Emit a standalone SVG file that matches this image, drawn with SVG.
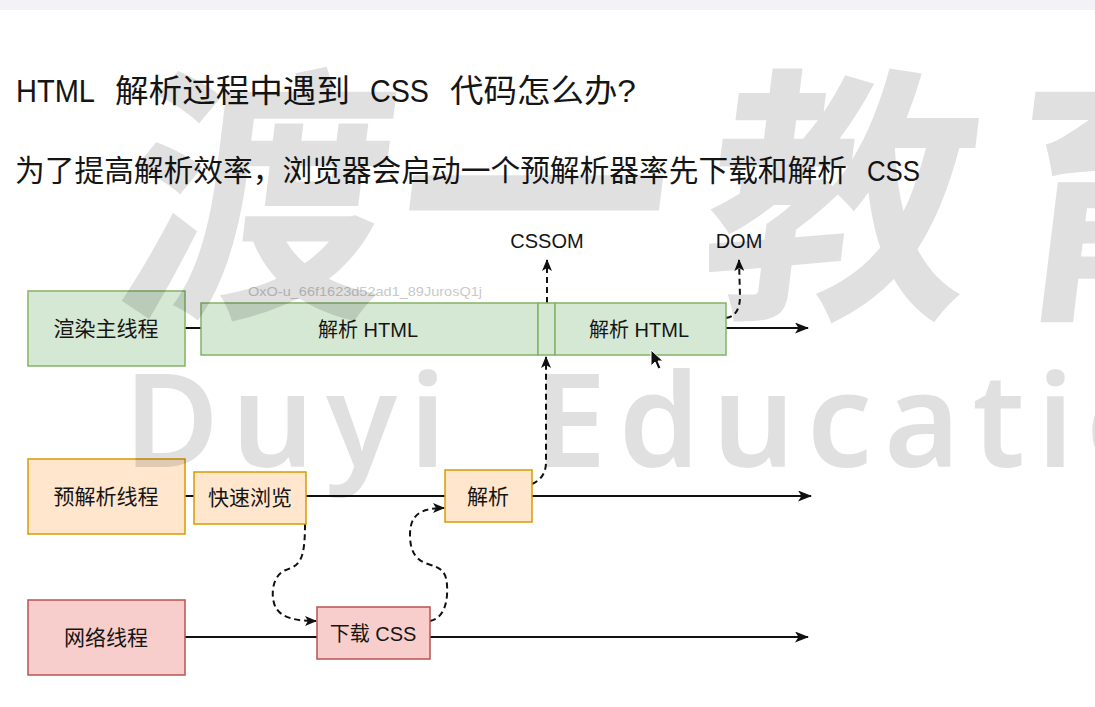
<svg xmlns="http://www.w3.org/2000/svg" width="1095" height="707" viewBox="0 0 1095 707">
<style>
.t{font-family:"Liberation Sans","Noto Sans CJK SC",sans-serif;fill:#151515}
.lbl{font-family:"Liberation Sans","Noto Sans CJK SC",sans-serif;font-size:20px;fill:#151515;text-anchor:middle}
.g{fill:#d5e8d4;stroke:#82b366;stroke-width:1.5}
.o{fill:#ffe6cc;stroke:#d79b00;stroke-width:1.5}
.r{fill:#f8cecc;stroke:#b85450;stroke-width:1.5}
.ln{fill:none;stroke:#111;stroke-width:2}
.ds{fill:none;stroke:#111;stroke-width:2;stroke-dasharray:6 4}
.wm{font-family:"Noto Sans CJK SC",sans-serif;font-weight:700;font-size:270px;fill:#000;fill-opacity:0.12}
.wl{font-family:"Noto Sans","Liberation Sans",sans-serif;font-weight:600;font-size:130px;fill:#000;fill-opacity:0.12;letter-spacing:12px}
</style>
<defs>
<marker id="ah" viewBox="0 0 14 11" refX="13" refY="5.5" markerWidth="14" markerHeight="11" markerUnits="userSpaceOnUse" orient="auto">
<path d="M0,0 L14,5.5 L0,11 L3.5,5.5 Z" fill="#111"/>
</marker>
<marker id="ahs" viewBox="0 0 12 10" refX="11" refY="5" markerWidth="12" markerHeight="10" markerUnits="userSpaceOnUse" orient="auto">
<path d="M0,0 L12,5 L0,10 L3,5 Z" fill="#111"/>
</marker>
</defs>
<rect x="0" y="0" width="1095" height="707" fill="#ffffff"/>
<rect x="0" y="0" width="1095" height="10" fill="#f3f2f7"/>

<g id="title">
<text class="t" y="102" font-size="32"><tspan x="16" textLength="79" lengthAdjust="spacingAndGlyphs">HTML</tspan><tspan x="115" textLength="235" lengthAdjust="spacingAndGlyphs">解析过程中遇到</tspan><tspan x="370" textLength="59" lengthAdjust="spacingAndGlyphs">CSS</tspan><tspan x="450" textLength="186" lengthAdjust="spacingAndGlyphs">代码怎么办?</tspan></text>
</g>
<g id="subtitle">
<text class="t" y="181" font-size="29.5"><tspan x="15" textLength="832" lengthAdjust="spacingAndGlyphs">为了提高解析效率，浏览器会启动一个预解析器率先下载和解析</tspan><tspan x="867" textLength="53" lengthAdjust="spacingAndGlyphs">CSS</tspan></text>
</g>

<text x="248" y="296" font-family="Liberation Sans, sans-serif" font-size="13" fill="#c9c9c9" textLength="234" lengthAdjust="spacingAndGlyphs">OxO-u_66f1623d52ad1_89JurosQ1j</text>

<g id="connectors">
<path class="ln" d="M185 328 H201"/>
<path class="ln" d="M726 328 H808" marker-end="url(#ah)"/>
<path class="ds" d="M547 303 V260" marker-end="url(#ahs)"/>
<path class="ds" d="M726 318 Q740 316 740 296 L739 260" marker-end="url(#ahs)"/>
<path class="ds" d="M532 484 Q546 478 546 462 V357" marker-end="url(#ahs)"/>
<path class="ln" d="M185 496 H194"/>
<path class="ln" d="M306 496 H445"/>
<path class="ln" d="M532 496 H811" marker-end="url(#ah)"/>
<path class="ds" d="M305 524 C305 560 300 565 286 570 C270 576 271 600 276 608 C282 618 296 621 316 621" marker-end="url(#ahs)"/>
<path class="ds" d="M430 621 C445 618 448 600 447 585 C446 570 440 568 428 564 C415 560 410 550 410 535 C410 515 420 508 444 508" marker-end="url(#ahs)"/>
<path class="ln" d="M185 637 H317"/>
<path class="ln" d="M430 637 H808" marker-end="url(#ah)"/>
</g>

<g id="label-cssom"><text class="lbl" x="547" y="248" style="font-size:20px">CSSOM</text></g>
<g id="label-dom"><text class="lbl" x="739" y="248" style="font-size:20px">DOM</text></g>

<g id="render-thread"><rect class="g" x="28" y="291" width="157" height="75"/><text class="lbl" x="106" y="336" style="font-size:21px">渲染主线程</text></g>
<g id="parse-html-1"><rect class="g" x="201" y="303" width="337" height="52"/><text class="lbl" x="368" y="337">解析 HTML</text></g>
<g id="cssom-slot"><rect class="g" x="538" y="303" width="17" height="52"/></g>
<g id="parse-html-2"><rect class="g" x="555" y="303" width="171" height="52"/><text class="lbl" x="639" y="337">解析 HTML</text></g>

<g id="preparse-thread"><rect class="o" x="28" y="459" width="157" height="75"/><text class="lbl" x="106" y="504" style="font-size:21px">预解析线程</text></g>
<g id="quick-scan"><rect class="o" x="194" y="472" width="112" height="52"/><text class="lbl" x="250" y="505" style="font-size:21px">快速浏览</text></g>
<g id="parse"><rect class="o" x="445" y="470" width="87" height="52"/><text class="lbl" x="488" y="504" style="font-size:21px">解析</text></g>

<g id="network-thread"><rect class="r" x="28" y="600" width="157" height="75"/><text class="lbl" x="106" y="645" style="font-size:21px">网络线程</text></g>
<g id="download-css"><rect class="r" x="317" y="607" width="113" height="52"/><text class="lbl" x="373" y="641">下载 CSS</text></g>

<g id="watermark">
<text class="wm" transform="translate(112 298) skewX(-7)">渡</text>
<text class="wm" transform="translate(388 298) skewX(-7)">一</text>
<text class="wm" transform="translate(695 298) skewX(-7)">教</text>
<text class="wm" transform="translate(995 298) skewX(-7)">育</text>
<text class="wl" x="124" y="467">Duyi</text>
<text class="wl" x="534" y="467">Education</text>
</g>

<path d="M651 350 L651 366 L655 362 L658 369 L661 368 L658 361 L663 361 Z" fill="#111" stroke="#fff" stroke-width="1"/>
</svg>
